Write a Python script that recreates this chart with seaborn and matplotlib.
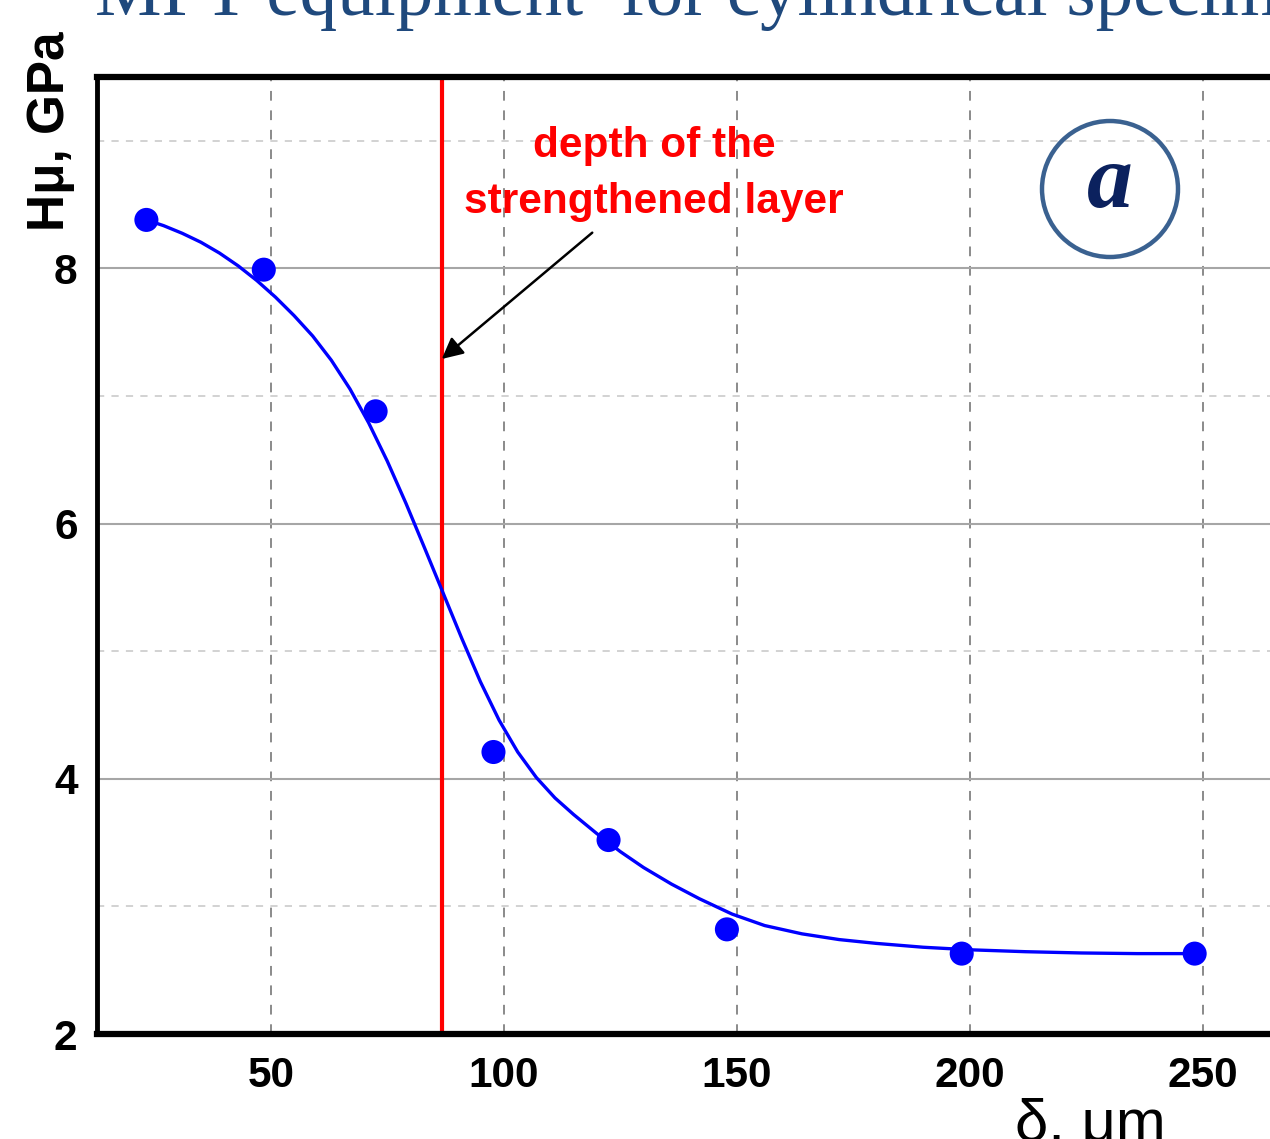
import numpy as np
import pandas as pd
import matplotlib
matplotlib.use('Agg')
import matplotlib.pyplot as plt
from matplotlib.patches import Ellipse
from matplotlib.ticker import MultipleLocator
import seaborn as sns

# measured points: depth (um) vs microhardness (GPa)
depth = [23.3, 48.5, 72.5, 97.8, 122.5, 147.9, 198.3, 248.3]
hardness = [8.38, 7.99, 6.88, 4.21, 3.52, 2.82, 2.63, 2.63]

# fitted curve
fit_x = [23.3, 27, 31, 35, 39, 43, 47, 51, 55, 59, 63, 67, 71, 75, 79, 83,
         87, 91, 95, 99, 103, 107, 111, 115, 120, 125, 130, 136, 142, 149,
         156, 164, 172, 180, 190, 200, 212, 224, 236, 248.3]
fit_y = [8.38, 8.335, 8.275, 8.205, 8.12, 8.02, 7.905, 7.775, 7.63, 7.47,
         7.28, 7.055, 6.79, 6.49, 6.16, 5.81, 5.455, 5.10, 4.76, 4.46, 4.21,
         4.01, 3.85, 3.72, 3.57, 3.43, 3.305, 3.175, 3.06, 2.94, 2.85, 2.785,
         2.74, 2.71, 2.68, 2.66, 2.645, 2.635, 2.63, 2.63]

layer_depth = 86.7
x_ticks = [50, 100, 150, 200, 250]
y_ticks = [2, 4, 6, 8]

sns.set_style('white', rc={'text.color': 'black', 'axes.labelcolor': 'black',
                           'xtick.color': 'black', 'ytick.color': 'black'})
plt.rcParams['font.family'] = ['Liberation Sans', 'DejaVu Sans']

pts = pd.DataFrame({'depth': depth, 'H': hardness})
fit = pd.DataFrame({'depth': fit_x, 'H': fit_y})

fig = plt.figure(figsize=(12.7, 11.39), dpi=100)
ax = fig.add_axes([97 / 1270, 1 - 1034 / 1139, 1175 / 1270, 957 / 1139])

sns.lineplot(data=fit, x='depth', y='H', color='blue', lw=2.4, ax=ax,
             sort=True, zorder=3)
sns.scatterplot(data=pts, x='depth', y='H', color='blue', s=300,
                edgecolor='none', ax=ax, zorder=4)

ax.axvline(layer_depth, color='red', lw=3, zorder=2)

ax.set_xlim(12.7, 264.9)
ax.set_ylim(2, 9.5)
ax.set_xticks(x_ticks)
ax.set_yticks(y_ticks)
ax.xaxis.set_minor_locator(MultipleLocator(25))
ax.yaxis.set_minor_locator(MultipleLocator(1))
ax.set_xticklabels([str(v) for v in x_ticks], fontsize=30.5,
                   fontweight='bold', color='black')
ax.set_yticklabels([str(v) for v in y_ticks], fontsize=30.5,
                   fontweight='bold', color='black')

ax.tick_params(which='major', direction='in', length=12, width=3.5,
               top=False, right=False, color='black')
ax.tick_params(which='minor', direction='in', length=6, width=3,
               top=False, right=False, color='black')
ax.tick_params(axis='x', which='major', pad=16)
ax.tick_params(axis='y', which='major', pad=14)

ax.set_axisbelow(True)
ax.grid(which='major', axis='y', color='#a6a6a6', lw=1.5, ls='-')
ax.grid(which='minor', axis='y', color='#cfcfcf', lw=1.3, ls=(0, (4, 4)))
ax.grid(which='major', axis='x', color='#8a8a8a', lw=1.4, ls=(0, (5, 5)))

for side in ['left', 'bottom', 'top', 'right']:
    ax.spines[side].set_visible(True)
    ax.spines[side].set_color('black')
ax.spines['left'].set_linewidth(3.5)
ax.spines['bottom'].set_linewidth(4.5)
ax.spines['top'].set_linewidth(4.5)
ax.spines['right'].set_linewidth(1.5)

ax.set_xlabel('')
ax.set_ylabel('Hμ, GPa', fontsize=37, fontweight='bold', color='black')
ax.yaxis.set_label_coords(-0.019, 0.9436)

fig.text(1090 / 1270, 1 - 1141 / 1139, 'δ, μm', fontsize=43,
         family=['Liberation Sans Narrow', 'Liberation Sans', 'DejaVu Sans'],
         ha='center', va='baseline', color='black')

ax.text(132.3, 8.74, 'depth of the\nstrengthened layer', color='red',
        fontsize=30.5, fontweight='bold', ha='center', va='center',
        linespacing=1.5)

ax.annotate('', xy=(layer_depth, 7.29), xytext=(119, 8.28),
            arrowprops=dict(arrowstyle='-|>', color='black', lw=1.8,
                            mutation_scale=32, shrinkA=0, shrinkB=0))

# label "a" inside a circle
fig.add_artist(Ellipse((1110 / 1270, 1 - 189 / 1139), 136 / 1270, 136 / 1139,
                       transform=fig.transFigure, fill=False,
                       edgecolor='#3a6190', lw=3.2))
fig.text(1110 / 1270, 1 - 185 / 1139, 'a', fontsize=66, fontweight='bold',
         fontstyle='italic', family='Liberation Serif', color='#0b215e',
         ha='center', va='center')

# slide title, mostly cut off at the top edge
fig.text(95 / 1270, 1 - 15 / 1139, 'MPT equipment  for cylindrical specimens',
         fontsize=54, family='Liberation Serif', color='#1f497d',
         ha='left', va='baseline')

fig.savefig('out.png', dpi=100)
